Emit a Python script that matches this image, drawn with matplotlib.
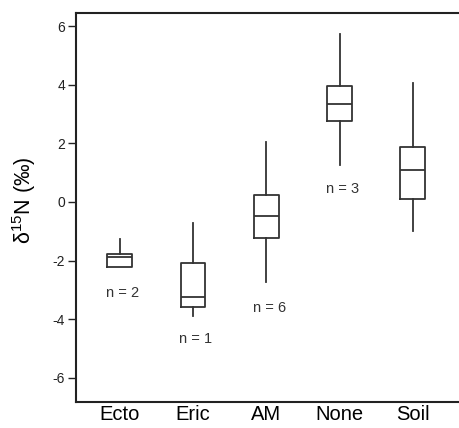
import matplotlib.pyplot as plt

# ==== Dados ====
categorias = ["Ecto", "Eric", "AM", "None", "Soil"]
whisk_hi = [-1.27, -0.73, 2.04, 5.72, 4.05]
q3 = [-1.79, -2.08, 0.22, 3.97, 1.89]
mediana = [-1.89, -3.24, -0.47, 3.34, 1.10]
q1 = [-2.21, -3.57, -1.22, 2.76, 0.09]
whisk_lo = [-2.21, -3.89, -2.75, 1.26, -0.98]

n_labels = ["n = 2", "n = 1", "n = 6", "n = 3", None]
n_y = [-3.1, -4.68, -3.63, 0.43, None]

plt.rcParams["font.family"] = ["Liberation Sans", "DejaVu Sans"]
plt.rcParams["mathtext.fontset"] = "custom"
plt.rcParams["mathtext.rm"] = "Liberation Sans"
plt.rcParams["mathtext.default"] = "regular"
plt.rcParams["axes.unicode_minus"] = False

stats = []
for i, cat in enumerate(categorias):
    stats.append(dict(label=cat, med=mediana[i], q1=q1[i], q3=q3[i],
                      whislo=whisk_lo[i], whishi=whisk_hi[i], fliers=[]))

fig = plt.figure(figsize=(4.59, 4.28), dpi=100)
ax = fig.add_axes([76 / 459, 1 - 401.7 / 428, 1 - 76 / 459, (401.7 - 13) / 428])

cor = "#333333"
ax.bxp(stats, positions=range(len(categorias)), widths=0.34, showfliers=False,
       showcaps=False,
       boxprops=dict(color=cor, linewidth=1.3),
       whiskerprops=dict(color=cor, linewidth=1.3),
       medianprops=dict(color=cor, linewidth=1.3))

for i, (txt, y) in enumerate(zip(n_labels, n_y)):
    if txt:
        ax.text(i + 0.04, y, txt, ha="center", va="center", fontsize=10.5, color="#333333")

ax.set_xlim(-0.596, 4.63)
ax.set_ylim(-6.82, 6.45)
ax.set_yticks([-6, -4, -2, 0, 2, 4, 6])
ax.set_xticks(range(len(categorias)))
ax.set_xticklabels(categorias, fontsize=14.5)
ax.tick_params(axis="x", length=0, pad=2.5)
ax.tick_params(axis="y", labelsize=10, length=6, width=1, pad=2, colors="#222222")

ax.spines["right"].set_visible(False)
for s in ["left", "top", "bottom"]:
    ax.spines[s].set_linewidth(1.5)
    ax.spines[s].set_color("#222222")

ax.set_ylabel(r"$\delta^{15}$N (‰)", fontsize=15.5)
ax.yaxis.set_label_coords(-0.10, 0.519)

fig.savefig("out.png", dpi=100)
